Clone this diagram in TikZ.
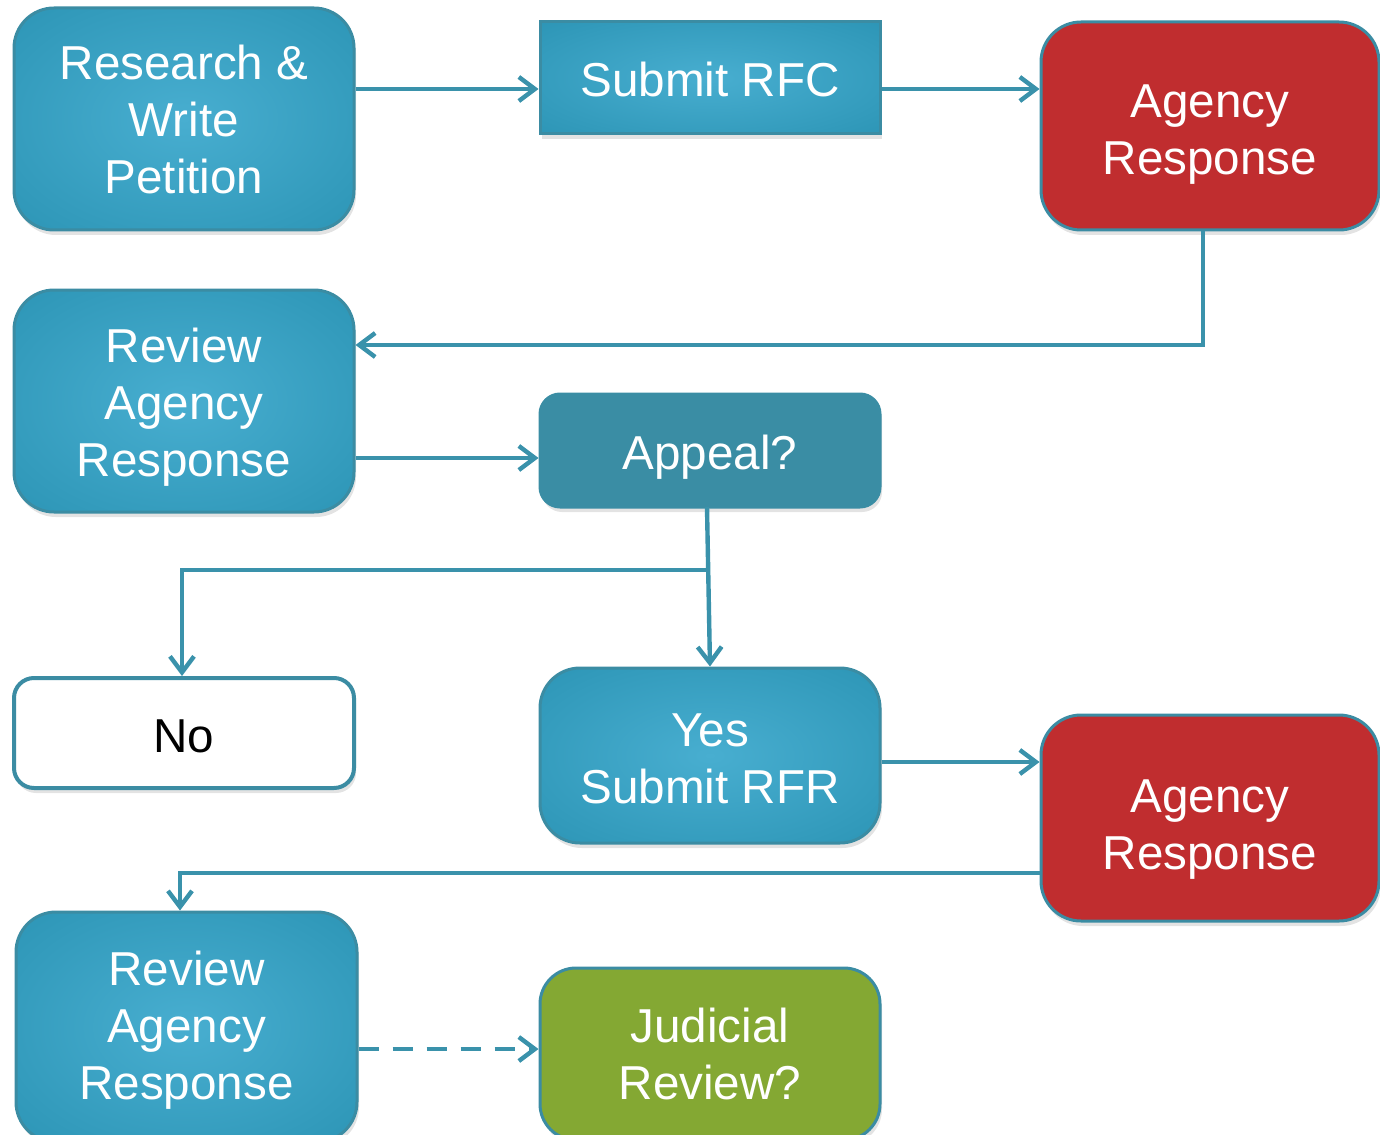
\documentclass[tikz,border=0pt]{standalone}
\usepackage{fontspec}
\setmainfont{Liberation Sans}
\usetikzlibrary{arrows.meta,shadows,calc}
\definecolor{tealin}{HTML}{48AED0}
\definecolor{tealout}{HTML}{1E88A8}
\definecolor{tline}{HTML}{3A92AB}
\definecolor{tborder}{HTML}{3B8CA3}
\definecolor{agred}{HTML}{C02D2F}
\definecolor{jgreen}{HTML}{84A833}
\definecolor{appealc}{HTML}{3A8DA4}
\pgfdeclareradialshading{tealshade}{\pgfpoint{0bp}{0bp}}{color(0bp)=(tealin); color(55bp)=(tealout); color(100bp)=(tealout)}
\tikzset{
  box/.style={draw=tborder, line width=1.5pt, minimum width=170pt, align=center,
    text=white, font=\fontsize{23.8}{28.5}\selectfont,
    drop shadow={opacity=0.22, shadow xshift=1pt, shadow yshift=-2.5pt}},
  txh/.style={execute at begin node={\rule{0pt}{#1}}},
  tealbox/.style={box, shading=tealshade, rounded corners=20pt},
  redbox/.style={box, fill=agred, rounded corners=20pt},
  conn/.style={draw=tline, line width=2.2pt, -{Straight Barb[length=8pt,width=12pt,line width=2.2pt]}},
}
\begin{document}
\begin{tikzpicture}[x=0.5pt,y=-0.5pt]
\useasboundingbox (0,0) rectangle (1380,1134);
\clip (0,0) rectangle (1380,1134);
% nodes
\node[tealbox, minimum height=111pt] (rw) at (184,119) {Research \&\\Write\\Petition};
\node[box, shading=tealshade, minimum height=56pt, txh=19pt] (rfc) at (710,78) {Submit RFC};
\node[redbox, minimum width=169pt, minimum height=104pt, txh=53.5pt] (ag1) at (1210,126) {Agency\\Response};
\node[tealbox, minimum height=111pt, txh=80.5pt] (rev1) at (184,401) {Review\\Agency\\Response};
\node[box, fill=appealc, draw=appealc, rounded corners=10pt, minimum height=56.5pt, txh=23.5pt] (app) at (710,450.5) {Appeal?};
\node[box, fill=white, text=black, draw=tborder, rounded corners=10pt, minimum height=55pt, line width=2pt, txh=20pt] (no) at (184,733) {No};
\node[tealbox, minimum height=87.5pt, txh=48pt] (yes) at (710,755.5) {Yes\\Submit RFR};
\node[redbox, minimum width=169pt, minimum height=103pt, txh=56pt] (ag2) at (1210,818) {Agency\\Response};
\node[tealbox, minimum width=170.5pt, minimum height=115pt, txh=77pt] (rev2) at (186.5,1027) {Review\\Agency\\Response};
\node[box, fill=jgreen, rounded corners=18pt, minimum height=86pt] (jud) at (710,1054) {Judicial\\Review?};
% connectors
\draw[conn] (rw.east |- 0,89) -- (rfc.west |- 0,89);
\draw[conn] (rfc.east |- 0,89) -- (ag1.west |- 0,89);
\coordinate (a1) at (1203,345);
\draw[conn] (a1 |- ag1.south) -- (a1) -- (rev1.east |- a1);
\draw[conn] (rev1.east |- 0,458) -- (app.west |- 0,458);
\coordinate (ab) at (707,507);
\draw[conn] (ab) -- (yes.north);
\coordinate (br) at (707.5,570);
\coordinate (nb) at (182,570);
\draw[conn] (br) -- (nb) -- (nb |- no.north);
\draw[conn] (yes.east |- 0,762) -- (ag2.west |- 0,762);
\coordinate (lb) at (180,873);
\draw[conn] (ag2.west |- lb) -- (lb) -- (lb |- rev2.north);
\draw[conn, dash pattern=on 10pt off 7pt] (rev2.east |- 0,1049) -- (jud.west |- 0,1049);
\end{tikzpicture}
\end{document}
